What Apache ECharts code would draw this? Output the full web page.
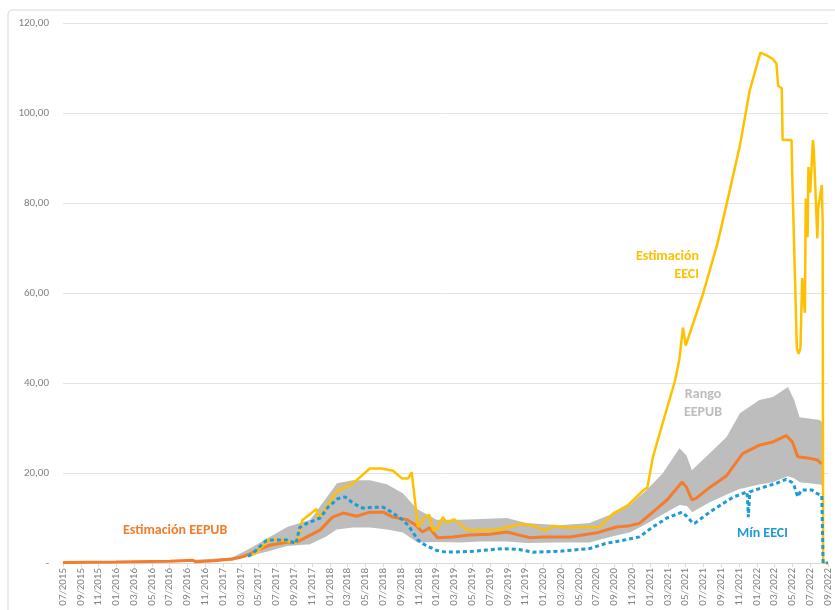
<!DOCTYPE html>
<html>
<head>
<meta charset="utf-8">
<title>EEPUB / EECI</title>
<script src="https://cdn.jsdelivr.net/npm/echarts@6/dist/echarts.min.js"></script>
<style>
  html, body { margin: 0; padding: 0; background: #fff; }
  #main { width: 835px; height: 610px; }
</style>
</head>
<body>
<div id="main"></div>
<script>
// eje x: meses desde 07/2015 (0 = 07/2015, 86 = 09/2022)
const tickLabels = [
  "07/2015", "09/2015", "11/2015", "01/2016", "03/2016", "05/2016", "07/2016", "09/2016", "11/2016",
  "01/2017", "03/2017", "05/2017", "07/2017", "09/2017", "11/2017",
  "01/2018", "03/2018", "05/2018", "07/2018", "09/2018", "11/2018",
  "01/2019", "03/2019", "05/2019", "07/2019", "09/2019", "11/2019",
  "01/2020", "03/2020", "05/2020", "07/2020", "09/2020", "11/2020",
  "01/2021", "03/2021", "05/2021", "07/2021", "09/2021", "11/2021",
  "01/2022", "03/2022", "05/2022", "07/2022", "09/2022"
];

// rango EEPUB (banda gris)
const bandX = [0, 14, 19, 20.7, 23, 25.2, 27.8, 29.7, 30.8, 32.6, 34.5, 36.4, 38.2, 39.8, 42, 44.6, 47, 49.9,
  52.1, 55.8, 59.2, 61.5, 63.7, 65.6, 67.4, 69.3, 70.1, 70.7, 72.7, 74.6, 76.1, 78.3, 79.8, 81.5, 82.2, 82.8, 85.1, 85.4];
const bandLow = [0, 0.3, 0.5, 1.3, 2.4, 3.6, 4, 5.8, 7.3, 7.7, 7.7, 7.3, 6.6, 4.4, 4.5, 4.4, 4.6, 4.6,
  4.3, 4.4, 4.4, 5.6, 6.6, 8.5, 10.6, 12.7, 12.5, 11.1, 13.3, 15, 16.3, 17.3, 17.8, 19.1, 18.6, 17.8, 17.3, 17];
const bandHigh = [0.05, 0.6, 1.2, 2.9, 5.5, 8, 9.6, 14.7, 17.7, 18.4, 18.4, 17.5, 15.5, 12, 9.6, 9.6, 9.8, 10,
  8.9, 8.4, 8.9, 10.7, 12.9, 16.2, 19.9, 25.5, 23.9, 20.6, 24.4, 28, 33.3, 36.2, 36.9, 39.1, 36.2, 32.4, 31.8, 31];

// estimación EEPUB
const eepub = [
  [0, 0.1], [6, 0.2], [12, 0.4], [14.6, 0.6], [14.9, 0.3], [17, 0.5], [19, 0.9], [20, 1.3], [21, 2.0], [22, 3.0],
  [23.3, 4.0], [25.2, 4.6], [26.3, 4.6], [27.4, 5.8], [28.9, 7.3], [30.3, 10.2], [31.5, 11.1], [33, 10.4],
  [34.5, 11.3], [36, 11.3], [37.1, 10.2], [38.7, 9.6], [39.6, 8.5], [40.4, 6.9], [41.2, 7.8], [42.1, 5.6],
  [43.8, 5.8], [45.7, 6.2], [48, 6.4], [49.9, 6.9], [51.3, 6.2], [52.5, 5.6], [53.9, 5.8], [57, 5.8], [60, 6.7],
  [62.2, 8], [63.5, 8.2], [64.8, 8.8], [66.3, 11.3], [67.9, 14], [69.6, 18], [70.1, 16.8], [70.7, 14],
  [71.2, 14.4], [72.7, 16.8], [74.6, 19.4], [76.4, 24.3], [78.3, 26.2], [79.8, 26.9], [81.3, 28.3], [82, 26.9],
  [82.6, 23.6], [83.9, 23.3], [84.8, 22.9], [85.3, 22]
];

// estimación EECI
const eeci = [
  [20.8, 1.5], [21.6, 2.1], [23.3, 5.4], [24.7, 5.0], [26.3, 4.5], [26.9, 9.5], [28.5, 12], [28.7, 9.7],
  [30.8, 16], [32.6, 17.7], [34.5, 21], [35.8, 21], [37.1, 20.5], [38.1, 18.8], [38.8, 18.8], [39.2, 20.2],
  [39.9, 8], [40.7, 10.2], [41.2, 10.7], [41.6, 7.2], [42.1, 7.7], [42.7, 10.2], [43.1, 9], [44, 9.7],
  [45.5, 7.2], [48.8, 7.4], [51.3, 8.6], [52.7, 8.4], [54.2, 7.2], [55.1, 8.2], [56.6, 7.9], [60.3, 8],
  [61.8, 10.9], [63.5, 12.8], [65.2, 16.1], [65.7, 16.8], [66.3, 23.4], [67.4, 31], [68.8, 40.5], [69.3, 45.4],
  [69.7, 52.3], [70, 48.3], [71.9, 59.5], [73.6, 71.2], [74.9, 82.3], [76.1, 92.8], [77.2, 105], [78.4, 113.4],
  [79.1, 112.8], [79.8, 112], [80.2, 111], [80.4, 106], [80.8, 105.5], [80.9, 94], [81.9, 94], [82, 84.6],
  [82.5, 47.7], [82.7, 46.5], [82.9, 47.7], [83.1, 63.3], [83.4, 55.6], [83.5, 81], [83.7, 72.4], [83.8, 88],
  [84, 82.3], [84.3, 94], [84.4, 92.2], [84.8, 72.2], [84.9, 78.8], [85.3, 84], [85.4, 75.8], [85.45, 0], [86, 0]
];

// mínimo EECI
const minEeci = [
  [20.8, 1.5], [21.3, 2.1], [22.9, 5.1], [24.2, 5.1], [25.2, 5.1], [26.2, 4.3], [26.6, 7.9], [27.4, 8.8],
  [28.9, 10], [29.8, 12.4], [30.9, 14.3], [31.7, 14.7], [32.6, 13.3], [33.7, 12.2], [34.8, 12.4], [36, 12.4],
  [37.1, 11.1], [38.1, 9.7], [38.8, 8.4], [39.9, 5.1], [40.7, 4], [42, 2.8], [43.1, 2.4], [46.1, 2.6],
  [49.4, 3.2], [51.3, 3], [52.8, 2.4], [55.8, 2.6], [59.2, 3.2], [61.1, 4.4], [62.6, 4.9], [64.8, 5.8],
  [66.3, 8], [67.9, 10], [69.6, 11.3], [70.1, 10.4], [70.7, 9.1], [71, 8.8], [72.7, 11.3], [73.8, 12.7],
  [75.3, 14.6], [76.9, 15.8], [77.05, 10.2], [77.2, 15.8], [78.7, 16.8], [80.2, 17.7], [81.3, 18.6],
  [81.9, 18], [82.2, 17.1], [82.6, 14.7], [83, 16.2], [84.2, 16.2], [84.8, 15.4], [85.3, 15], [85.45, 0], [86, 0]
];

const font = 'Calibri, Carlito, "Liberation Sans", sans-serif';
const cOrange = "#F47C2A";
const cYellow = "#FFC000";
const cBlue = "#1E9AD6";
const cGray = "#BDBDBD";

const chart = echarts.init(document.getElementById("main"), null, { renderer: "canvas" });

// la banda se dibuja como un poligono: borde superior de ida, inferior de vuelta
const renderBand = (params, api) => {
  const pts = [];
  for (let i = 0; i < bandX.length; i++) pts.push(api.coord([bandX[i], bandHigh[i]]));
  for (let i = bandX.length - 1; i >= 0; i--) pts.push(api.coord([bandX[i], bandLow[i]]));
  return {
    type: "polygon",
    shape: { points: pts },
    style: { fill: cGray, stroke: "none" },
  };
};

const label = (text, x, y, color, align) => ({
  type: "text",
  z: 100,
  x: x,
  y: y,
  style: {
    text: text,
    fill: color,
    font: "bold 14px " + font,
    align: align,
    verticalAlign: "middle",
    lineHeight: 18,
  },
});

const option = {
  animation: false,
  backgroundColor: "#fff",
  textStyle: { fontFamily: font },
  grid: { left: 63, right: 7, top: 23, bottom: 47, containLabel: false },
  xAxis: {
    type: "value",
    min: 0,
    max: 86,
    interval: 2,
    splitLine: { show: false },
    axisLine: { show: true, lineStyle: { color: "#d9d9d9" } },
    axisTick: { show: true, length: 4, lineStyle: { color: "#d9d9d9" } },
    axisLabel: {
      rotate: 90,
      margin: 5,
      fontSize: 11,
      color: "#808080",
      fontFamily: font,
      formatter: (v) => tickLabels[Math.round(v / 2)] || "",
    },
  },
  yAxis: {
    type: "value",
    min: 0,
    max: 120,
    interval: 20,
    axisLine: { show: false },
    axisTick: { show: false },
    splitLine: { lineStyle: { color: "#e3e3e3" } },
    axisLabel: {
      margin: 14,
      fontSize: 11,
      color: "#808080",
      fontFamily: font,
      formatter: (v) => (v === 0 ? "-" : v.toFixed(2).replace(".", ",")),
    },
  },
  series: [
    {
      type: "custom",
      name: "Rango EEPUB",
      silent: true,
      renderItem: renderBand,
      data: [[bandX[0], bandLow[0]]],
    },
    {
      type: "line",
      name: "borde",
      symbol: "none",
      silent: true,
      lineStyle: { color: "#fff", width: 1.5 },
      data: bandX.map((x, i) => [x, bandLow[i]]).slice(3),
    },
    {
      type: "line",
      name: "Estimación EEPUB",
      symbol: "none",
      lineStyle: { color: cOrange, width: 3 },
      data: eepub,
    },
    {
      type: "line",
      name: "Estimación EECI",
      symbol: "none",
      lineStyle: { color: cYellow, width: 2.5 },
      data: eeci,
    },
    {
      type: "line",
      name: "Mín EECI",
      symbol: "none",
      lineStyle: { color: cBlue, width: 3, type: [4, 3] },
      data: minEeci,
    },
  ],
  graphic: [
    {
      type: "rect",
      silent: true,
      z: 100,
      shape: { x: 8, y: 10, width: 840, height: 620, r: 4 },
      style: { fill: "none", stroke: "#d9d9d9", lineWidth: 1 },
    },
    label("Estimación EEPUB", 123, 530, cOrange, "left"),
    label("Estimación\nEECI", 699, 265, cYellow, "right"),
    label("Rango\nEEPUB", 703, 403, cGray, "center"),
    label("Mín EECI", 737, 533, cBlue, "left"),
  ],
};

chart.setOption(option);
</script>
</body>
</html>
